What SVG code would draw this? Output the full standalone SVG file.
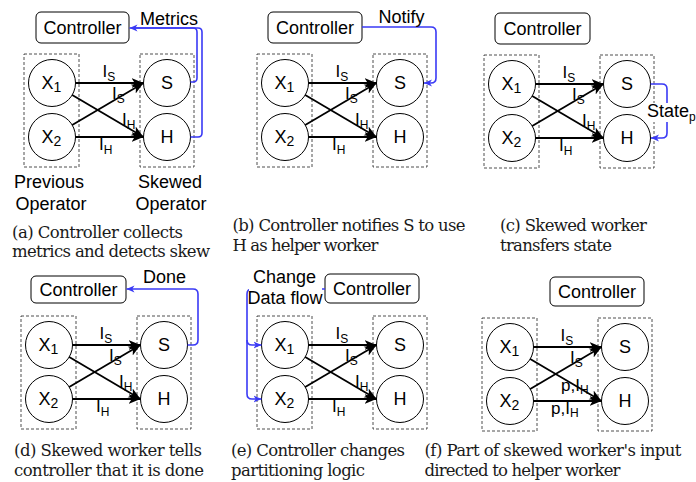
<svg xmlns="http://www.w3.org/2000/svg" width="696" height="482" viewBox="0 0 696 482">
<style>
.cap{font-family:"DejaVu Serif","Liberation Serif",serif;font-size:16.5px;fill:#1a1a1a}
.lb{font-family:"Liberation Sans",Arial,sans-serif;font-size:17px;fill:#000}
.nt{font-family:"Liberation Sans",Arial,sans-serif;font-size:18px;fill:#000}
.sub{font-size:12px}
.nsub{font-size:14px}
.dash{fill:none;stroke:#222;stroke-width:0.8;stroke-dasharray:3 2}
.node{fill:#fff;stroke:#000;stroke-width:1}
.ctl{fill:#fff;stroke:#000;stroke-width:1}
.e{stroke:#000;stroke-width:1.8;fill:none;marker-end:url(#ah)}
.b{stroke:#3a3af5;stroke-width:1.6;fill:none}
.ba{marker-end:url(#bh)}
</style>
<defs>
<marker id="ah" markerUnits="userSpaceOnUse" markerWidth="13" markerHeight="11" refX="12" refY="5.5" orient="auto"><path d="M0,0.5 L12,5.5 L0,10.5 L3.2,5.5 Z" fill="#000"/></marker>
<marker id="bh" markerUnits="userSpaceOnUse" markerWidth="9" markerHeight="8" refX="8" refY="4" orient="auto"><path d="M0,0.5 L8,4 L0,7.5 L2.2,4 Z" fill="#3a3af5"/></marker>
<g id="base">
<rect class="dash" x="24" y="54" width="55" height="113"/>
<rect class="dash" x="140" y="54" width="54" height="113"/>
</g>
<g id="nodes">
<g><circle class="node" cx="52" cy="83" r="23.5"/><text class="nt" x="41.5" y="89">X<tspan class="nsub" dy="2.7">1</tspan></text></g>
<g><circle class="node" cx="52" cy="137" r="23.5"/><text class="nt" x="41.5" y="143">X<tspan class="nsub" dy="2.7">2</tspan></text></g>
<g><circle class="node" cx="167" cy="83" r="23.5"/><text class="nt" x="167" y="89" text-anchor="middle">S</text></g>
<g><circle class="node" cx="167" cy="137" r="23.5"/><text class="nt" x="167" y="143" text-anchor="middle">H</text></g>
</g>
<g id="edges">
<line class="e" x1="75.5" y1="83" x2="143.5" y2="83"/>
<line class="e" x1="75.5" y1="137" x2="143.5" y2="137"/>
<line class="e" x1="72.2" y1="94.9" x2="143.5" y2="137"/>
<line class="e" x1="72.2" y1="125.1" x2="143.5" y2="83"/>
<text class="lb" x="102.5" y="77">I<tspan class="sub" dy="4">S</tspan></text>
<text class="lb" x="112" y="99">I<tspan class="sub" dy="4">S</tspan></text>
</g>
</defs>

<!-- Panel a -->
<g id="panel-a">
<use href="#base"/>
<g id="a-nodes"><use href="#nodes"/></g>
<g id="a-connectors"><use href="#edges"/>
<text class="lb" x="122" y="125">I<tspan class="sub" dy="3.5">H</tspan></text>
<text class="lb" x="99" y="150">I<tspan class="sub" dy="4">H</tspan></text>
</g>
<g id="a-controller"><rect class="ctl" x="36" y="12" width="93" height="31" rx="5"/><text class="nt" x="82.5" y="34" text-anchor="middle">Controller</text></g>
<g id="a-blue">
<path class="b ba" d="M190.5,82 H193 Q197,82 197,78 V32 Q197,28 193,28 H129.5"/>
<path class="b" d="M190.5,137 H198 Q202,137 202,133 V32 Q202,28 198,28 H135"/>
<text class="nt" x="140" y="25">Metrics</text>
</g>
<text class="nt" x="49" y="188" text-anchor="middle">Previous</text>
<text class="nt" x="51" y="210" text-anchor="middle">Operator</text>
<text class="nt" x="170" y="188" text-anchor="middle">Skewed</text>
<text class="nt" x="171" y="210" text-anchor="middle">Operator</text>
<text class="cap" x="12" y="238" textLength="171">(a) Controller collects</text>
<text class="cap" x="12" y="257" textLength="198">metrics and detects skew</text>
</g>

<!-- Panel b -->
<g id="panel-b">
<g transform="translate(233,0)">
<use href="#base"/>
<g id="b-nodes"><use href="#nodes"/></g>
<g id="b-connectors"><use href="#edges"/>
<text class="lb" x="122" y="125">I<tspan class="sub" dy="3.5">H</tspan></text>
<text class="lb" x="99" y="150">I<tspan class="sub" dy="4">H</tspan></text>
</g>
</g>
<g id="b-controller"><rect class="ctl" x="268" y="12" width="94" height="31" rx="5"/><text class="nt" x="315" y="34" text-anchor="middle">Controller</text></g>
<g id="b-blue">
<path class="b ba" d="M362,27 H431 Q436,27 436,32 V78 Q436,83 431,83 H424"/>
<text class="nt" x="378.5" y="23">Notify</text>
</g>
<text class="cap" x="232.5" y="231" textLength="233">(b) Controller notifies S to use</text>
<text class="cap" x="232.5" y="251" textLength="146">H as helper worker</text>
</g>

<!-- Panel c -->
<g id="panel-c">
<g transform="translate(460,1)">
<use href="#base"/>
<g id="c-nodes"><use href="#nodes"/></g>
<g id="c-connectors"><use href="#edges"/>
<text class="lb" x="122" y="125">I<tspan class="sub" dy="3.5">H</tspan></text>
<text class="lb" x="99" y="150">I<tspan class="sub" dy="4">H</tspan></text>
</g>
</g>
<g id="c-controller"><rect class="ctl" x="495" y="13" width="95" height="31" rx="5"/><text class="nt" x="542.5" y="35" text-anchor="middle">Controller</text></g>
<g id="c-blue">
<path class="b ba" d="M650.5,84 H662 Q667,84 667,89 V133 Q667,138 662,138 H651"/>
<rect x="646" y="103" width="50" height="19" fill="#fff"/>
<text class="nt" x="647" y="117">State<tspan class="sub" dy="4">p</tspan></text>
</g>
<text class="cap" x="500" y="231" textLength="147">(c) Skewed worker</text>
<text class="cap" x="500" y="251" textLength="112">transfers state</text>
</g>

<!-- Panel d -->
<g id="panel-d">
<g transform="translate(-3,262)">
<use href="#base"/>
<g id="d-nodes"><use href="#nodes"/></g>
<g id="d-connectors"><use href="#edges"/>
<text class="lb" x="122" y="125">I<tspan class="sub" dy="3.5">H</tspan></text>
<text class="lb" x="99" y="150">I<tspan class="sub" dy="4">H</tspan></text>
</g>
</g>
<g id="d-controller"><rect class="ctl" x="31" y="276" width="95" height="27" rx="5"/><text class="nt" x="78.5" y="296" text-anchor="middle">Controller</text></g>
<g id="d-blue">
<path class="b ba" d="M187.5,345 H193 Q198,345 198,340 V294 Q198,289 193,289 H126.5"/>
<text class="nt" x="143" y="283">Done</text>
</g>
<text class="cap" x="14" y="456" textLength="188">(d) Skewed worker tells</text>
<text class="cap" x="14" y="476" textLength="190">controller that it is done</text>
</g>

<!-- Panel e -->
<g id="panel-e">
<g transform="translate(233,262)">
<use href="#base"/>
<g id="e-nodes"><use href="#nodes"/></g>
<g id="e-connectors"><use href="#edges"/>
<text class="lb" x="122" y="125">I<tspan class="sub" dy="3.5">H</tspan></text>
<text class="lb" x="99" y="150">I<tspan class="sub" dy="4">H</tspan></text>
</g>
</g>
<g id="e-controller"><rect class="ctl" x="325" y="274" width="94" height="29" rx="5"/><text class="nt" x="372" y="295" text-anchor="middle">Controller</text></g>
<g id="e-blue">
<path class="b ba" d="M325,289 H252 Q247,289 247,294 V394 Q247,399 252,399 H261.5"/>
<path class="b ba" d="M247,340 Q247,345 252,345 H261.5"/>
<rect x="249" y="268" width="73" height="40" fill="#fff"/>
<text class="nt" x="284.5" y="283" text-anchor="middle">Change</text>
<text class="nt" x="285" y="304" text-anchor="middle">Data flow</text>
</g>
<text class="cap" x="231" y="456" textLength="174">(e) Controller changes</text>
<text class="cap" x="231" y="476" textLength="134">partitioning logic</text>
</g>

<!-- Panel f -->
<g id="panel-f">
<g transform="translate(458,264)">
<use href="#base"/>
<g id="f-nodes"><use href="#nodes"/></g>
<g id="f-connectors"><use href="#edges"/>
<text class="lb" x="103" y="126.5">p,I<tspan class="sub" dy="3.5">H</tspan></text>
<text class="lb" x="93" y="149.5">p,I<tspan class="sub" dy="3.5">H</tspan></text>
</g>
</g>
<g id="f-controller"><rect class="ctl" x="550" y="277" width="94" height="29" rx="5"/><text class="nt" x="597" y="298" text-anchor="middle">Controller</text></g>
<text class="cap" x="424.5" y="456" textLength="257">(f) Part of skewed worker's input</text>
<text class="cap" x="424.5" y="476" textLength="196">directed to helper worker</text>
</g>
</svg>
